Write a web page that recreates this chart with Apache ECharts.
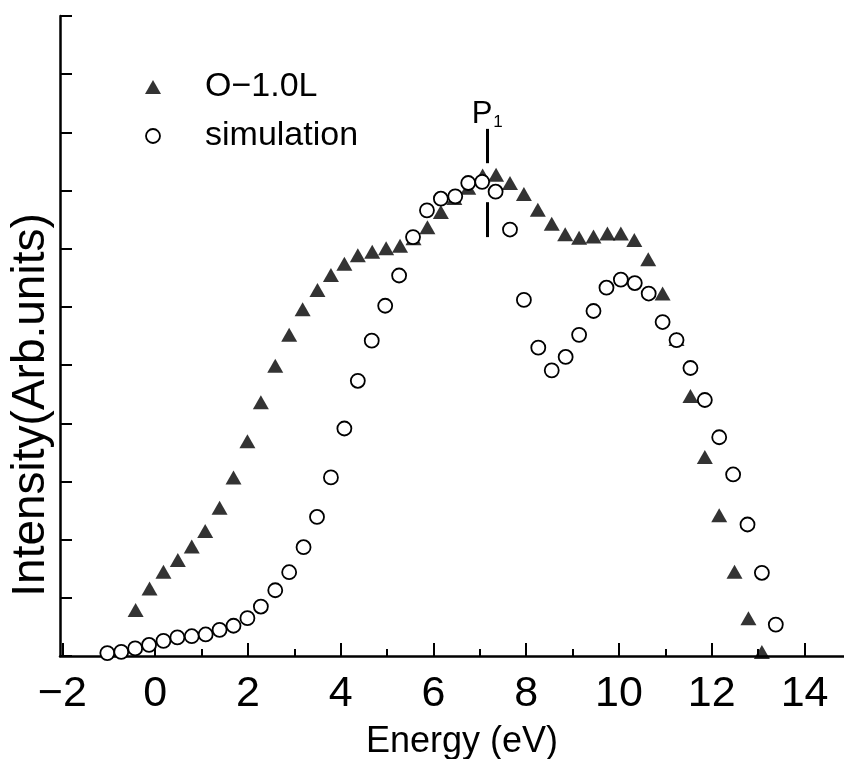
<!DOCTYPE html>
<html><head><meta charset="utf-8">
<script src="https://cdn.jsdelivr.net/npm/echarts@6/dist/echarts.min.js"></script>
<style>html,body{margin:0;padding:0;background:#fff}#c{width:844px;height:759px}</style>
</head><body><div id="c"></div>
<script>
// Tick values
const xMajorTicks = [-2, 0, 2, 4, 6, 8, 10, 12, 14];
const xMinorTicks = [-1, 1, 3, 5, 7, 9, 11, 13];

// Series: O-1.0L (filled triangles)
const expX = [-0.42, -0.12, 0.18, 0.49, 0.79, 1.08, 1.39, 1.69, 1.99, 2.28,
  2.59, 2.89, 3.18, 3.50, 3.79, 4.08, 4.37, 4.68, 4.98, 5.28,
  5.57, 5.87, 6.16, 6.45, 6.75, 7.06, 7.35, 7.65, 7.95, 8.25,
  8.55, 8.84, 9.14, 9.45, 9.75, 10.04, 10.33, 10.63, 10.94, 11.24,
  11.54, 11.85, 12.16, 12.49, 12.79, 13.08];
const expY = [0.79, 1.16, 1.45, 1.65, 1.88, 2.15, 2.55, 3.07, 3.69, 4.36,
  4.99, 5.52, 5.96, 6.29, 6.55, 6.74, 6.89, 6.95, 7.01, 7.05,
  7.18, 7.37, 7.63, 7.87, 8.05, 8.26, 8.27, 8.13, 7.94, 7.67,
  7.43, 7.25, 7.19, 7.21, 7.26, 7.26, 7.15, 6.82, 6.23, 5.45,
  4.47, 3.42, 2.42, 1.45, 0.65, 0.07];

// Series: simulation (open circles)
const simX = [-1.03, -0.73, -0.43, -0.13, 0.18, 0.48, 0.79, 1.09, 1.39, 1.69,
  1.99, 2.28, 2.59, 2.89, 3.20, 3.49, 3.79, 4.08, 4.37, 4.67,
  4.96, 5.26, 5.56, 5.86, 6.16, 6.47, 6.75, 7.05, 7.34, 7.65,
  7.95, 8.26, 8.55, 8.85, 9.14, 9.45, 9.73, 10.04, 10.34, 10.64,
  10.94, 11.24, 11.54, 11.85, 12.16, 12.46, 12.77, 13.08, 13.38];
const simY = [0.05, 0.07, 0.13, 0.19, 0.26, 0.32, 0.34, 0.37, 0.45, 0.52,
  0.65, 0.85, 1.13, 1.44, 1.87, 2.39, 3.07, 3.91, 4.73, 5.42,
  6.02, 6.54, 7.20, 7.66, 7.86, 7.90, 8.13, 8.15, 7.98, 7.33,
  6.12, 5.30, 4.91, 5.14, 5.52, 5.93, 6.33, 6.47, 6.41, 6.23,
  5.74, 5.43, 4.95, 4.40, 3.76, 3.12, 2.26, 1.43, 0.54];

// P1 marker (energy and the two vertical bar segments)
const p1Energy = 7.16;
const p1Upper = [8.47, 9.06];
const p1Lower = [7.20, 7.80];

const zip = (xs, ys) => xs.map((x, i) => [x, ys[i]]);
const FONT = '"Liberation Sans", Arial, sans-serif';

const chart = echarts.init(document.getElementById('c'), null, {renderer: 'canvas'});
chart.setOption({
  animation: false,
  backgroundColor: '#fff',
  grid: {left: 60, right: 0, top: 16, bottom: 103, containLabel: false, outerBoundsMode: 'none'},
  legend: {
    orient: 'vertical', left: 140, top: 65, itemWidth: 16, itemHeight: 14, itemGap: 15,
    selectedMode: false,
    data: [
      {name: 'O−1.0L', icon: 'triangle', itemStyle: {color: '#000', borderWidth: 0}},
      {name: 'simulation', icon: 'circle', itemStyle: {color: '#fff', borderColor: '#000', borderWidth: 1.8}}
    ],
    formatter: n => '{t|' + n + '}',
    textStyle: {rich: {t: {fontFamily: FONT, fontSize: 34, lineHeight: 36, color: '#000', padding: [0, 0, 0, 39]}}}
  },
  xAxis: [{
    type: 'value', min: -2.05, max: 14.85, position: 'bottom',
    name: 'Energy (eV)', nameLocation: 'middle', nameGap: 68,
    nameTextStyle: {fontFamily: FONT, fontSize: 36, color: '#000', padding: [0, 0, 0, 20]},
    axisLine: {show: true, onZero: false, lineStyle: {color: '#000', width: 2.5}},
    axisTick: {show: true, inside: true, length: 13, customValues: xMajorTicks, lineStyle: {color: '#000', width: 2}},
    axisLabel: {show: true, customValues: xMajorTicks, margin: 17, fontFamily: FONT, fontSize: 43, color: '#000',
      formatter: v => (v < 0 ? '−' + Math.abs(v) : String(v))},
    splitLine: {show: false}
  }, {
    type: 'value', min: -2.05, max: 14.85, position: 'bottom',
    axisLine: {show: false, onZero: false},
    axisTick: {show: true, inside: true, length: 7, customValues: xMinorTicks, lineStyle: {color: '#000', width: 2}},
    axisLabel: {show: false},
    splitLine: {show: false}
  }],
  yAxis: {
    type: 'value', min: 0, max: 11, interval: 1,
    name: 'Intensity(Arb.units)', nameLocation: 'middle', nameGap: 6, nameRotate: 90,
    nameTextStyle: {fontFamily: FONT, fontSize: 46, color: '#000', padding: [0, 138, 0, 0]},
    axisLine: {show: true, onZero: false, lineStyle: {color: '#000', width: 2.5}},
    axisTick: {show: true, inside: true, length: 12, lineStyle: {color: '#000', width: 2}},
    axisLabel: {show: false},
    splitLine: {show: false}
  },
  series: [{
    name: 'O−1.0L', type: 'scatter', xAxisIndex: 0, symbol: 'triangle', symbolSize: [16, 14],
    itemStyle: {color: '#000'}, data: zip(expX, expY),
    markLine: {
      silent: true, symbol: 'none', label: {show: false},
      lineStyle: {color: '#000', width: 3, type: 'solid'},
      data: [
        [{coord: [p1Energy, p1Upper[0]]}, {coord: [p1Energy, p1Upper[1]]}],
        [{coord: [p1Energy, p1Lower[0]]}, {coord: [p1Energy, p1Lower[1]]}]
      ]
    },
    markPoint: {
      silent: true, symbol: 'circle', symbolSize: 1, itemStyle: {color: 'rgba(0,0,0,0)'},
      label: {show: true, position: 'top', distance: 0, offset: [0, 2], formatter: '{p|P}{s|1}',
        rich: {p: {fontFamily: FONT, fontSize: 31, lineHeight: 32, color: '#000'},
               s: {fontFamily: FONT, fontSize: 17, lineHeight: 14, verticalAlign: 'bottom', color: '#000', padding: [6, 0, 0, 1]}}},
      data: [{coord: [p1Energy, p1Upper[1]]}]
    }
  }, {
    name: 'simulation', type: 'scatter', xAxisIndex: 0, symbol: 'circle', symbolSize: 14,
    itemStyle: {color: '#fff', borderColor: '#000', borderWidth: 1.8, opacity: 1}, data: zip(simX, simY)
  }]
});
</script></body></html>
